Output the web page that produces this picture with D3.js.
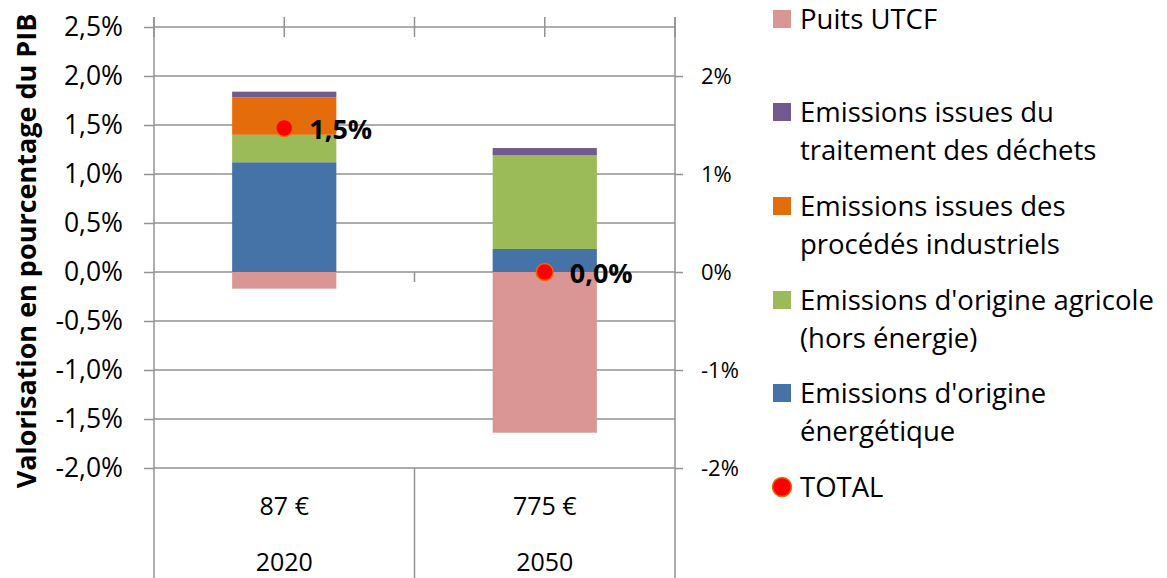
<!DOCTYPE html>
<html><head><meta charset="utf-8">
<script src="https://cdn.jsdelivr.net/npm/d3@7"></script>
<style>
html,body{margin:0;padding:0;background:#fff;}
svg{display:block;font-family:"Open Sans",sans-serif;}
</style></head>
<body>
<svg id="chart" width="1167" height="578"></svg>
<script>
// ---- data ----
const categories = ["2020", "2050"];
const costLabels = ["87 €", "775 €"];
const energie   = [1.12, 0.235];
const agricole  = [0.28, 0.955];
const industrie = [0.38, 0.0];
const dechets   = [0.06, 0.075];
const puits     = [-0.17, -1.64];
const total     = [1.47, 0.0];
const totalLabels = ["1,5%", "0,0%"];
const leftTicks  = [-2.0, -1.5, -1.0, -0.5, 0.0, 0.5, 1.0, 1.5, 2.0, 2.5];
const rightTicks = [-2, -1, 0, 1, 2];
const seriesKeys = ["energie", "agricole", "industrie", "dechets", "puits"];
const seriesColors = {energie:"#4573A7", agricole:"#9BBB59", industrie:"#E46C0A", dechets:"#725A8F", puits:"#D99694"};
const legendItems = [
  {key:"puits", lines:["Puits UTCF"]},
  {key:"dechets", lines:["Emissions issues du", "traitement des déchets"]},
  {key:"industrie", lines:["Emissions issues des", "procédés industriels"]},
  {key:"agricole", lines:["Emissions d'origine agricole", "(hors énergie)"]},
  {key:"energie", lines:["Emissions d'origine", "énergétique"]},
  {key:"total", lines:["TOTAL"]}
];

// ---- layout ----
const svg = d3.select("#chart");
const X0 = 154, X1 = 675, YTOP = 27, YBOT = 468;
const gridColor = "#929292";

const x = d3.scaleBand().domain(categories).range([X0, X1]).paddingInner(0.6).paddingOuter(0.3);
const y = d3.scaleLinear().domain([-2.0, 2.5]).range([YBOT, YTOP]);

const loc = d3.formatLocale({decimal:",", thousands:" ", grouping:[3], currency:["","€"], minus:"-"});
const fLeft = v => loc.format(".1f")(v) + "%";
const fRight = v => loc.format(".0f")(v) + "%";

// gridlines
svg.append("g").selectAll("line").data(leftTicks).join("line")
  .attr("x1", X0).attr("x2", X1)
  .attr("y1", d => y(d)).attr("y2", d => y(d))
  .attr("stroke", gridColor).attr("stroke-width", 1.5);

// category table lines below plot / axis verticals
const step = x.step();
const boundaries = [X0, X0 + step, X1];
svg.append("g").selectAll("line").data(boundaries).join("line")
  .attr("x1", d => d).attr("x2", d => d)
  .attr("y1", (d, i) => i === 1 ? YBOT : YTOP - 10).attr("y2", 578)
  .attr("stroke", gridColor).attr("stroke-width", 1.5);

// top secondary axis cross ticks
const topTicks = [X0, x("2020") + x.bandwidth()/2, X0 + step, x("2050") + x.bandwidth()/2, X1];
svg.append("g").selectAll("line").data(topTicks).join("line")
  .attr("x1", d => d).attr("x2", d => d)
  .attr("y1", YTOP - 10).attr("y2", YTOP + 10)
  .attr("stroke", gridColor).attr("stroke-width", 1.5);

// zero-line tick at category boundary
svg.append("line")
  .attr("x1", X0 + step).attr("x2", X0 + step)
  .attr("y1", y(0)).attr("y2", y(0) + 10)
  .attr("stroke", gridColor).attr("stroke-width", 1.5);

// stacked bars
const rows = categories.map((c, i) => ({cat:c, energie:energie[i], agricole:agricole[i], industrie:industrie[i], dechets:dechets[i], puits:puits[i]}));
const stacked = d3.stack().keys(seriesKeys).offset(d3.stackOffsetDiverging)(rows);
svg.append("g").selectAll("g").data(stacked).join("g")
  .attr("fill", d => seriesColors[d.key])
  .selectAll("rect").data(d => d).join("rect")
  .attr("x", d => x(d.data.cat))
  .attr("width", x.bandwidth())
  .attr("y", d => y(Math.max(d[0], d[1])))
  .attr("height", d => Math.abs(y(d[0]) - y(d[1])));

// left axis
const axL = svg.append("g").attr("transform", `translate(${X0},0)`)
  .call(d3.axisLeft(y).tickValues(leftTicks).tickFormat(fLeft).tickSize(10).tickPadding(21));
axL.select(".domain").remove();
axL.selectAll(".tick line").attr("stroke", gridColor).attr("stroke-width", 1.5);
axL.selectAll(".tick text").attr("font-size", 26.5).attr("fill", "#000").attr("font-family", "Open Sans");

// right axis
const axR = svg.append("g").attr("transform", `translate(${X1},0)`)
  .call(d3.axisRight(y).tickValues(rightTicks).tickFormat(fRight).tickSize(8).tickPadding(18));
axR.select(".domain").remove();
axR.selectAll(".tick line").attr("stroke", gridColor).attr("stroke-width", 1.5);
axR.selectAll(".tick text").attr("font-size", 22).attr("fill", "#000").attr("font-family", "Open Sans");

// category labels
svg.append("g").selectAll("text").data(categories).join("text")
  .attr("x", d => x(d) + x.bandwidth()/2).attr("y", 562).attr("dy", "0.35em")
  .attr("text-anchor", "middle").attr("font-size", 25).text(d => d);
svg.append("g").selectAll("text").data(costLabels).join("text")
  .attr("x", (d, i) => x(categories[i]) + x.bandwidth()/2).attr("y", 506).attr("dy", "0.35em")
  .attr("text-anchor", "middle").attr("font-size", 25).text(d => d);

// total points
svg.append("g").selectAll("circle").data(total).join("circle")
  .attr("cx", (d, i) => x(categories[i]) + x.bandwidth()/2)
  .attr("cy", d => y(d)).attr("r", 8.5)
  .attr("fill", "#FF0000").attr("stroke", "#E46C0A").attr("stroke-width", 1.5);
svg.append("g").selectAll("text").data(total).join("text")
  .attr("x", (d, i) => x(categories[i]) + x.bandwidth()/2 + 25)
  .attr("y", d => y(d) + 2).attr("dy", "0.35em")
  .attr("font-size", 27).attr("font-weight", "bold").text((d, i) => totalLabels[i]);

// y axis title
svg.append("text")
  .attr("transform", "translate(27,251) rotate(-90)")
  .attr("dy", "0.35em").attr("text-anchor", "middle")
  .attr("font-size", 27).attr("font-weight", "bold")
  .text("Valorisation en pourcentage du PIB");

// legend
const legendY = [19, 112, 206, 300, 393, 487];
const lg = svg.append("g").selectAll("g").data(legendItems).join("g")
  .attr("transform", (d, i) => `translate(0,${legendY[i]})`);
lg.filter(d => d.key !== "total").append("rect")
  .attr("x", 773).attr("y", -9).attr("width", 18).attr("height", 18)
  .attr("fill", d => seriesColors[d.key]);
lg.filter(d => d.key === "total").append("circle")
  .attr("cx", 782).attr("cy", 0).attr("r", 9.5)
  .attr("fill", "#FF0000").attr("stroke", "#E46C0A").attr("stroke-width", 1.5);
lg.each(function(d) {
  d3.select(this).selectAll("text").data(d.lines).join("text")
    .attr("x", 800).attr("y", (t, j) => j * 38).attr("dy", "0.35em")
    .attr("font-size", 27.5).attr("fill", "#000").text(t => t);
});
</script>
</body></html>
